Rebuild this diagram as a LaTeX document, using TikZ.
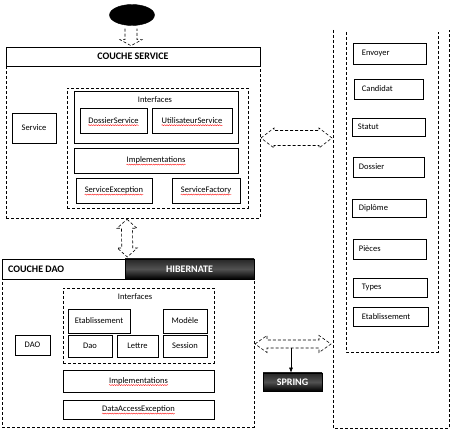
\documentclass[tikz,border=0pt]{standalone}
\usepackage{fontspec}
\setmainfont{Carlito}
\usetikzlibrary{calc,shapes.geometric,decorations.pathmorphing,arrows.meta}
\newcommand\hArrow[5]{% left tip, right tip, shaft half, head half, head length
  \draw[dsh] (#1) -- ($(#1)+(#5,-#4)$) -- ($(#1)+(#5,-#3)$) -- ($(#2)+(-#5,-#3)$) -- ($(#2)+(-#5,-#4)$) -- (#2)
   -- ($(#2)+(-#5,#4)$) -- ($(#2)+(-#5,#3)$) -- ($(#1)+(#5,#3)$) -- ($(#1)+(#5,#4)$) -- cycle;}
\newcommand\vArrow[5]{% top tip, bottom tip, shaft half, head half, head length
  \draw[dsh] (#1) -- ($(#1)+(#4,#5)$) -- ($(#1)+(#3,#5)$) -- ($(#2)+(#3,-#5)$) -- ($(#2)+(#4,-#5)$) -- (#2)
   -- ($(#2)+(-#4,-#5)$) -- ($(#2)+(-#3,-#5)$) -- ($(#1)+(-#3,#5)$) -- ($(#1)+(-#4,#5)$) -- cycle;}
\newcommand\squig[1]{\draw[squigl] ([yshift=-1.8pt]#1.base west) -- ([yshift=-1.8pt]#1.base east);}
\begin{document}
\begin{tikzpicture}[x=1pt,y=-1pt,
  font=\fontsize{8.5}{10}\selectfont,
  box/.style={draw,line width=0.6pt,inner sep=0pt},
  dbox/.style={draw,line width=0.6pt,inner sep=0pt,dash pattern=on 3pt off 2pt},
  dsh/.style={line width=0.6pt,dash pattern=on 3pt off 2pt},
  txt/.style={inner sep=0pt},
  head/.style={font=\fontsize{10}{12}\selectfont\bfseries},
  blackbox/.style={draw=black,line width=0.6pt,inner sep=0pt,top color=black!85,bottom color=black,middle color=black!68,text=white,font=\fontsize{10}{12}\selectfont\bfseries},
  squigl/.style={red,line width=0.35pt,decorate,decoration={snake,segment length=2.4pt,amplitude=0.55pt}}
]
\useasboundingbox (0,0) rectangle (451,430);

% start ellipse
\node[ellipse,draw,fill=black,minimum width=45pt,minimum height=21pt] (start) at (132,15) {};

% ---------- service layer ----------
\node[box,minimum width=254pt,minimum height=19pt] (cs) at (133,56.5) {};
\node[txt,head] (csT) at (133,56.5) {COUCHE SERVICE};
\node[dbox,minimum width=254pt,minimum height=152pt] (servOuter) at (133,142) {};
\node[dbox,minimum width=181pt,minimum height=120pt] (servInner) at (157.5,148) {};
\node[box,minimum width=164pt,minimum height=52pt] (ifaceS) at (156,117) {};
\node[txt] (ifaceST) at (155,100) {Interfaces};
\node[box,minimum width=67pt,minimum height=25pt] (dossierS) at (113.5,120.5) {};
\node[txt] (dossierST) at (dossierS) {DossierService};
\node[box,minimum width=80pt,minimum height=25pt] (utilS) at (192,120.5) {};
\node[txt] (utilST) at (utilS) {UtilisateurService};
\node[box,minimum width=44pt,minimum height=30pt] (serviceB) at (34,128) {Service};
\node[box,minimum width=164pt,minimum height=25pt] (implS) at (156,160.5) {};
\node[txt] (implST) at (implS) {Implementations};
\node[box,minimum width=76pt,minimum height=25pt] (sexc) at (114,190.5) {};
\node[txt] (sexcT) at (sexc) {ServiceException};
\node[box,minimum width=68pt,minimum height=25pt] (sfact) at (206,190.5) {};
\node[txt] (sfactT) at (sfact) {ServiceFactory};

% ---------- DAO layer ----------
\node[box,minimum width=123pt,minimum height=20pt] (cdao) at (63.5,269) {};
\node[txt,head,anchor=west] (cdaoT) at (8,269) {COUCHE DAO};
\node[blackbox,minimum width=129pt,minimum height=20pt] (hib) at (189.5,269) {HIBERNATE};
\node[dbox,minimum width=252pt,minimum height=148pt] (daoOuter) at (128,353) {};
\node[dbox,minimum width=151pt,minimum height=75pt] (daoInner) at (138.5,325.5) {};
\node[txt] (daoIfT) at (135,297) {Interfaces};
\node[box,minimum width=62pt,minimum height=24pt] (etabD) at (99,321) {Etablissement};
\node[box,minimum width=44pt,minimum height=24pt] (modele) at (185,321) {Modèle};
\node[box,minimum width=44pt,minimum height=22pt] (daoB) at (90,346) {Dao};
\node[box,minimum width=41pt,minimum height=22pt] (lettre) at (137.5,346) {Lettre};
\node[box,minimum width=44pt,minimum height=22pt] (session) at (185,346) {Session};
\node[box,minimum width=35pt,minimum height=20pt] (daoL) at (32.5,345) {DAO};
\node[box,minimum width=151pt,minimum height=22pt] (implD) at (138.5,381) {};
\node[txt] (implDT) at (implD) {Implementations};
\node[box,minimum width=151pt,minimum height=19pt] (dae) at (138.5,409.5) {};
\node[txt] (daeT) at (dae) {DataAccessException};
\node[blackbox,minimum width=59pt,minimum height=18pt] (spring) at (292.5,382) {SPRING};

% ---------- entities ----------
\draw[dsh] (333,30) -- (333,428) -- (449.5,428) -- (449.5,30);
\draw[dsh] (346,32) -- (346,352) -- (438,352) -- (438,32);
\node[box,minimum width=73pt,minimum height=21pt] (envoyer) at (389.5,53.5) {};
\node[box,minimum width=69pt,minimum height=20pt] (candidat) at (388.5,89) {};
\node[box,minimum width=73pt,minimum height=18pt] (statut) at (388.5,127) {};
\node[box,minimum width=71pt,minimum height=20pt] (dossier) at (388.5,167) {};
\node[box,minimum width=74pt,minimum height=18pt] (diplome) at (389,208) {};
\node[box,minimum width=73pt,minimum height=20pt] (pieces) at (389.5,249) {};
\node[box,minimum width=74pt,minimum height=19pt] (types) at (390,287.5) {};
\node[box,minimum width=75pt,minimum height=19pt] (etabE) at (390.5,316.5) {};
\node[txt,anchor=west] at ($(envoyer.west)+(9,0)$) {Envoyer};
\node[txt,anchor=west] at ($(candidat.west)+(8,0)$) {Candidat};
\node[txt,anchor=west] at ($(statut.west)+(6,0)$) {Statut};
\node[txt,anchor=west] at ($(dossier.west)+(6,0)$) {Dossier};
\node[txt,anchor=west] at ($(diplome.west)+(7,0)$) {Diplôme};
\node[txt,anchor=west] at ($(pieces.west)+(6,0)$) {Pièces};
\node[txt,anchor=west] at ($(types.west)+(9,0)$) {Types};
\node[txt,anchor=west] at ($(etabE.west)+(9,0)$) {Etablissement};

% ---------- squiggles ----------
\squig{dossierST}
\squig{utilST}
\squig{implST}
\squig{sexcT}
\squig{sfactT}
\squig{implDT}
\squig{daeT}

% ---------- connectors ----------
\coordinate (a0) at ($(start.south)+(-1,3)$);
\coordinate (a0t) at ($(cs.north)+(-2,-1)$);
\draw[dsh] ($(a0)+(-6,0)$) -- ($(a0t)+(-6,-6)$) -- ($(a0t)+(-11,-6)$) -- (a0t) -- ($(a0t)+(11,-6)$) -- ($(a0t)+(6,-6)$) -- ($(a0)+(6,0)$);

\coordinate (v1a) at ($(servOuter.south)+(-6,1)$);
\coordinate (v1b) at ($(cdao.north east)+(2,-2)$);
\vArrow{v1a}{v1b |- 0,257}{5.5}{10}{9}

\coordinate (h1a) at (261,138);
\coordinate (h1b) at (332,138);
\hArrow{h1a}{h1b}{7.5}{10}{13}

\coordinate (h2a) at (255,344);
\coordinate (h2b) at (331,344);
\hArrow{h2a}{h2b}{4}{8.5}{12}

\coordinate (sp0) at (291,348);
\draw[line width=0.6pt,-{Latex[length=5pt,width=4pt]}] (sp0) -- (sp0 |- spring.north);
\end{tikzpicture}
\end{document}
